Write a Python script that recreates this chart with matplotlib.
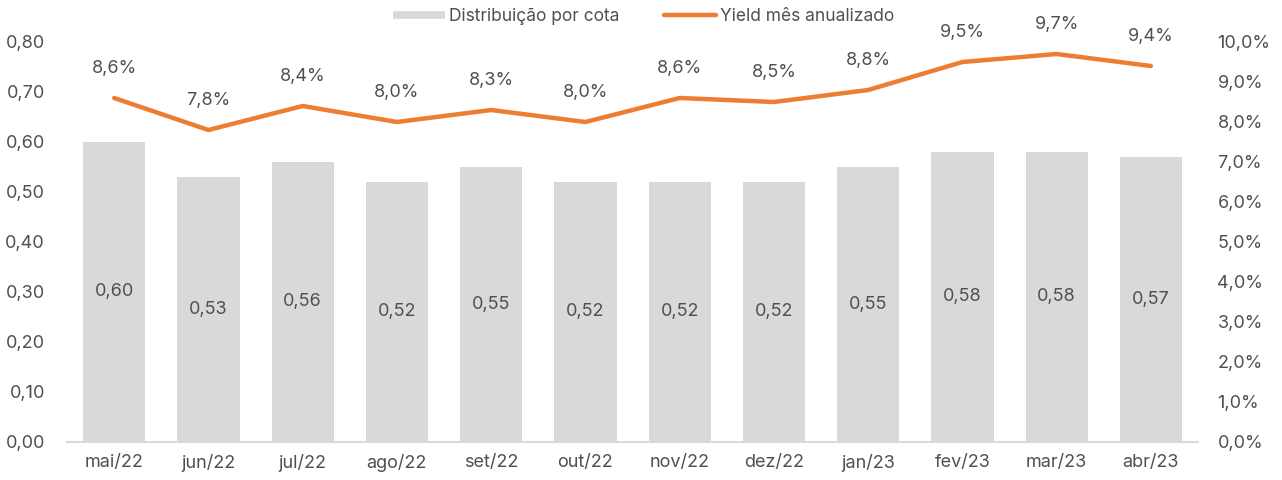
import matplotlib.pyplot as plt
from matplotlib.lines import Line2D

plt.rcParams['font.family'] = ['Inter', 'DejaVu Sans']

months = ['mai/22', 'jun/22', 'jul/22', 'ago/22', 'set/22', 'out/22',
          'nov/22', 'dez/22', 'jan/23', 'fev/23', 'mar/23', 'abr/23']
distribuicao = [0.60, 0.53, 0.56, 0.52, 0.55, 0.52, 0.52, 0.52, 0.55, 0.58, 0.58, 0.57]
yield_mes = [8.6, 7.8, 8.4, 8.0, 8.3, 8.0, 8.6, 8.5, 8.8, 9.5, 9.7, 9.4]

txt = '#505050'
gray = '#d9d9d9'
orange = '#ed7d31'

fig = plt.figure(figsize=(12.82, 4.8), dpi=100)
ax1 = fig.add_axes([0.0523, 0.0792, 0.8822, 0.8333])
ax2 = ax1.twinx()

x = range(len(months))
ax1.bar(x, distribuicao, width=0.66, color=gray, zorder=1)
for i, v in enumerate(distribuicao):
    ax1.text(i, v / 2, f'{v:.2f}'.replace('.', ','), ha='center', va='center',
             fontsize=13, color=txt)

ax2.plot(x, yield_mes, color=orange, lw=3.2, solid_capstyle='round', zorder=3)
for i, v in enumerate(yield_mes):
    ax2.annotate(f'{v:.1f}%'.replace('.', ','), (i, v), xytext=(0, 21),
                 textcoords='offset points', ha='center', va='center',
                 fontsize=13, color=txt)

ax1.set_xlim(-0.5, len(months) - 0.5)
ax1.set_ylim(0, 0.80)
ax2.set_ylim(0, 10)
ax1.set_yticks([i / 10 for i in range(9)])
ax1.set_yticklabels([f'{i / 10:.2f}'.replace('.', ',') for i in range(9)])
ax2.set_yticks(range(11))
ax2.set_yticklabels([f'{i:.1f}%'.replace('.', ',') for i in range(11)])
ax1.set_xticks(list(x))
ax1.set_xticklabels(months)

for ax in (ax1, ax2):
    for s in ax.spines.values():
        s.set_visible(False)
    ax.tick_params(length=0, labelsize=13, colors=txt)
ax1.spines['bottom'].set_visible(True)
ax1.spines['bottom'].set_color(gray)
ax1.spines['bottom'].set_linewidth(1.5)
ax1.tick_params(axis='x', pad=9)
ax1.tick_params(axis='y', pad=16)
ax2.tick_params(axis='y', pad=14)

handles = [Line2D([], [], color=gray, lw=5.5, solid_capstyle='butt',
                  label='Distribuição por cota'),
           Line2D([], [], color=orange, lw=3.2, solid_capstyle='round',
                  label='Yield mês anualizado')]
fig.legend(handles=handles, loc='center', bbox_to_anchor=(0.502, 0.966), ncol=2,
           frameon=False, fontsize=12.5, labelcolor=txt, handlelength=3.0,
           handletextpad=0.2, columnspacing=2.6)

fig.savefig('out.png', dpi=100)
